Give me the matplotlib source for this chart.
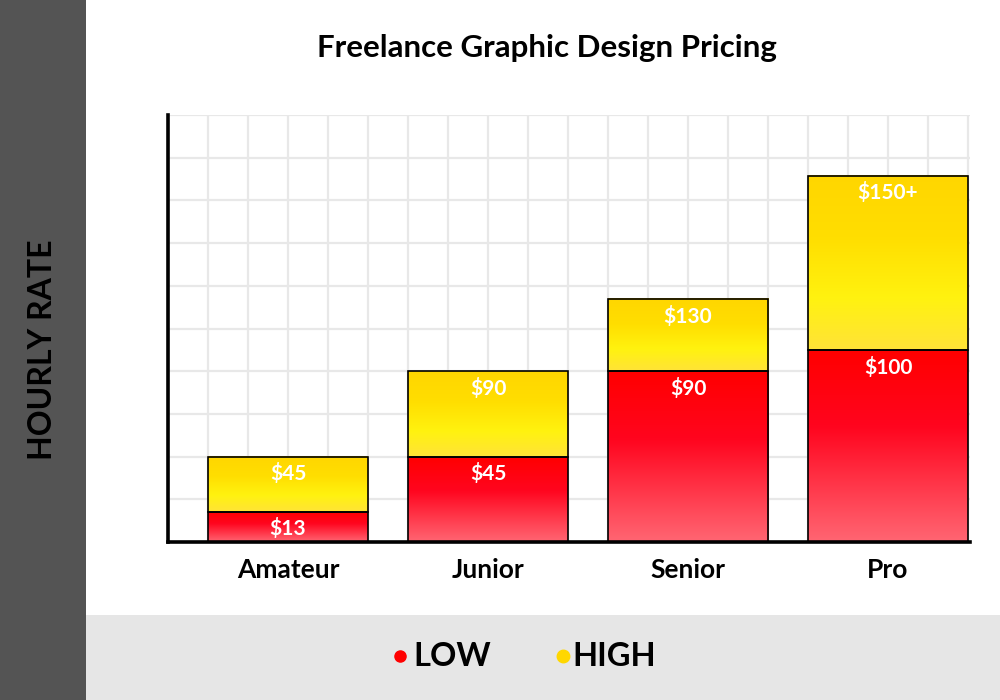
import matplotlib
matplotlib.use("Agg")
import matplotlib.pyplot as plt
import numpy as np
from matplotlib.colors import LinearSegmentedColormap
from matplotlib.lines import Line2D
from matplotlib.patches import Rectangle

categories = ["Amateur", "Junior", "Senior", "Pro"]
low_values = [16, 45, 90, 101]
high_values = [45, 90, 128, 193]
low_labels = ["$13", "$45", "$90", "$100"]
high_labels = ["$45", "$90", "$130", "$150+"]

FONT = "Lato"
plt.rcParams["font.family"] = [FONT, "DejaVu Sans"]
W = "bold"

fig = plt.figure(figsize=(10, 7), dpi=100)
fig.patch.set_facecolor("white")

# background bands
fig.add_artist(Rectangle((0, 0), 0.086, 1, transform=fig.transFigure,
                         facecolor="#545454", edgecolor="none", zorder=0))
fig.add_artist(Rectangle((0.086, 0), 0.914, 85 / 700, transform=fig.transFigure,
                         facecolor="#e6e6e6", edgecolor="none", zorder=0))

ax = fig.add_axes([0.168, 1 - 542 / 700, 0.802, 427 / 700])
ax.set_facecolor("white")
ax.set_xlim(-0.6, 3.41)
ax.set_ylim(0, 225)
ax.set_yticks(np.arange(0, 225.1, 22.5))
ax.set_xticks(np.arange(-0.6, 3.41, 0.2))
ax.grid(True, color="#e8e8e8", linewidth=1.6, zorder=0)
ax.tick_params(left=False, bottom=False, labelleft=False, labelbottom=False)
for s in ["top", "right"]:
    ax.spines[s].set_visible(False)
for s in ["left", "bottom"]:
    ax.spines[s].set_linewidth(2.6)
    ax.spines[s].set_color("black")
    ax.spines[s].set_zorder(5)

red_cmap = LinearSegmentedColormap.from_list(
    "red", [(0.0, (1.0, 0.40, 0.45)), (0.6, (1.0, 0.02, 0.12)), (1.0, (1.0, 0.0, 0.0))])
yel_cmap = LinearSegmentedColormap.from_list(
    "yel", [(0.0, (1.0, 0.89, 0.22)), (0.30, (1.0, 0.95, 0.06)),
            (0.65, (1.0, 0.87, 0.0)), (1.0, (1.0, 0.84, 0.0))])
grad = np.linspace(0, 1, 256).reshape(-1, 1)

x = np.arange(len(categories))
width = 0.8
high_seg = [h - l for h, l in zip(high_values, low_values)]
bars_low = ax.bar(x, low_values, width, facecolor="none", edgecolor="black",
                  linewidth=1.2, zorder=4)
bars_high = ax.bar(x, high_seg, width, bottom=low_values, facecolor="none",
                   edgecolor="black", linewidth=1.2, zorder=4)

for bars, cmap in [(bars_low, red_cmap), (bars_high, yel_cmap)]:
    for b in bars:
        x0, y0, w, h = b.get_x(), b.get_y(), b.get_width(), b.get_height()
        ax.imshow(grad, cmap=cmap, extent=[x0, x0 + w, y0, y0 + h],
                  origin="lower", aspect="auto", zorder=3, interpolation="bilinear")

ax.set_xlim(-0.6, 3.41)
ax.set_ylim(0, 225)

for i in range(len(categories)):
    ax.text(x[i], low_values[i] - 3.5, low_labels[i], ha="center", va="top",
            color="white", fontsize=15, fontweight=W, zorder=6)
    ax.text(x[i], high_values[i] - 3.5, high_labels[i], ha="center", va="top",
            color="white", fontsize=15, fontweight=W, zorder=6)
    ax.text(x[i], -8.5, categories[i], ha="center", va="top", color="black",
            fontsize=19, fontweight=W, zorder=6)

fig.text(0.547, 1 - 48 / 700, "Freelance Graphic Design Pricing", ha="center",
         va="center", fontsize=22.5, fontweight=W, color="black")
fig.text(0.043, 0.5, "HOURLY RATE", rotation=90, ha="center", va="center",
         fontsize=23, fontweight=W, color="black")

# legend
ly = 1 - 657 / 700
fig.add_artist(Line2D([0.400], [ly + 0.002], marker="o", markersize=8, color="#ff0000",
                      linestyle="none", transform=fig.transFigure))
fig.text(0.413, ly, "LOW", ha="left", va="center", fontsize=23.5, fontweight=W)
fig.add_artist(Line2D([0.563], [ly + 0.002], marker="o", markersize=9, color="#ffd700",
                      linestyle="none", transform=fig.transFigure))
fig.text(0.572, ly, "HIGH", ha="left", va="center", fontsize=23.5, fontweight=W)

fig.savefig("out.png", dpi=100)
